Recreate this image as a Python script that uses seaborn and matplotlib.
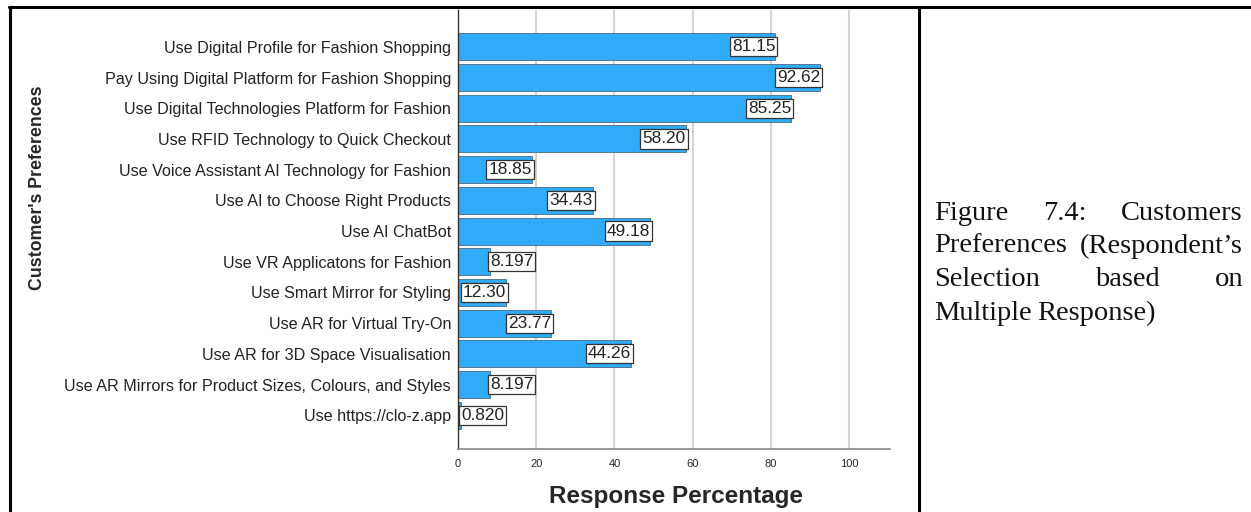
import matplotlib
matplotlib.use('Agg')
import matplotlib.pyplot as plt
import seaborn as sns
import pandas as pd
from matplotlib.lines import Line2D

# Data
preferences = [
    'Use Digital Profile for Fashion Shopping',
    'Pay Using Digital Platform for Fashion Shopping',
    'Use Digital Technologies Platform for Fashion',
    'Use RFID Technology to Quick Checkout',
    'Use Voice Assistant AI Technology for Fashion',
    'Use AI to Choose Right Products',
    'Use AI ChatBot',
    'Use VR Applicatons for Fashion',
    'Use Smart Mirror for Styling',
    'Use AR for Virtual Try-On',
    'Use AR for 3D Space Visualisation',
    'Use AR Mirrors for Product Sizes, Colours, and Styles',
    'Use https://clo-z.app',
]
percentages = [81.15, 92.62, 85.25, 58.20, 18.85, 34.43, 49.18,
               8.197, 12.30, 23.77, 44.26, 8.197, 0.820]
x_ticks = [0, 20, 40, 60, 80, 100]

caption_lines = [
    ['Figure', '7.4:', 'Customers'],
    ['Preferences', '(Respondent\u2019s'],
    ['Selection', 'based', 'on'],
    ['Multiple', 'Response)'],
]

df = pd.DataFrame({'pref': preferences, 'pct': percentages})

sns.set_style('white')
plt.rcParams['font.family'] = ['Liberation Sans', 'DejaVu Sans']

W, H = 1251, 512
fig = plt.figure(figsize=(W / 100, H / 100), dpi=100)
ax = fig.add_axes([458 / W, 1 - 449 / H, (890 - 458) / W, (449 - 10) / H])

sns.barplot(data=df, x='pct', y='pref', orient='h', color='#2fabf9',
            saturation=1, width=0.88, edgecolor='#4a6a80', linewidth=0.6, ax=ax, zorder=2)

ax.set_xlim(0, 110.5)
ax.set_ylim(len(preferences) - 1 + 1.1, -1.2)
ax.set_xticks(x_ticks)
ax.set_xticklabels([str(t) for t in x_ticks], fontsize=8)
ax.tick_params(axis='x', length=0, pad=7)
ax.tick_params(axis='y', length=0, pad=5, labelsize=11.6)
for lbl in ax.get_yticklabels():
    lbl.set_color('#222222')
ax.xaxis.grid(True, color='#d4d4d4', linewidth=1.5, zorder=0)
ax.set_axisbelow(True)
for s in ['top', 'right']:
    ax.spines[s].set_visible(False)
ax.spines['left'].set_color('#333333')
ax.spines['left'].set_linewidth(1.0)
ax.spines['bottom'].set_color('#888888')
ax.spines['bottom'].set_linewidth(1.2)
ax.set_xlabel('')
ax.set_ylabel('')

# value labels in boxes at the bar ends
for i, v in enumerate(percentages):
    txt = f'{v:.3f}' if v < 10 else f'{v:.2f}'
    inside = v >= 11.8
    ax.text(v, i, txt, ha='right' if inside else 'left', va='center',
            fontsize=12.4, color='#222222', zorder=5,
            bbox=dict(boxstyle='square,pad=0.12', fc='white', ec='#333333', lw=0.9))

fig.text(676 / W, 1 - 497 / H, 'Response Percentage', ha='center', va='center',
         fontsize=17.5, fontweight='bold')
fig.text(38 / W, 1 - 188 / H, "Customer's Preferences", ha='center', va='center',
         rotation=90, fontsize=12.8, fontweight='bold')

# table borders around the chart and caption
fig.add_artist(Line2D([9 / W, 1], [1 - 7 / H] * 2, color='black', lw=2.2))
fig.add_artist(Line2D([10 / W] * 2, [0, 1 - 7 / H], color='black', lw=2.2))
fig.add_artist(Line2D([919 / W] * 2, [0, 1 - 7 / H], color='black', lw=2.2))

# justified caption
cap_left, cap_right = 934, 1243
line_y = [213, 246, 280, 313]
fig.canvas.draw()
renderer = fig.canvas.get_renderer()
for words, yy in zip(caption_lines, line_y):
    objs = [fig.text(0, 1 - yy / H, w, fontsize=20.5, family='Liberation Serif',
                     va='center', ha='left', color='#111111') for w in words]
    widths = [o.get_window_extent(renderer).width for o in objs]
    if words is caption_lines[-1]:
        gap = 6
    else:
        gap = (cap_right - cap_left - sum(widths)) / (len(words) - 1)
    xpos = cap_left
    for o, w in zip(objs, widths):
        o.set_x(xpos / W)
        xpos += w + gap

fig.savefig('out.png', dpi=100)
